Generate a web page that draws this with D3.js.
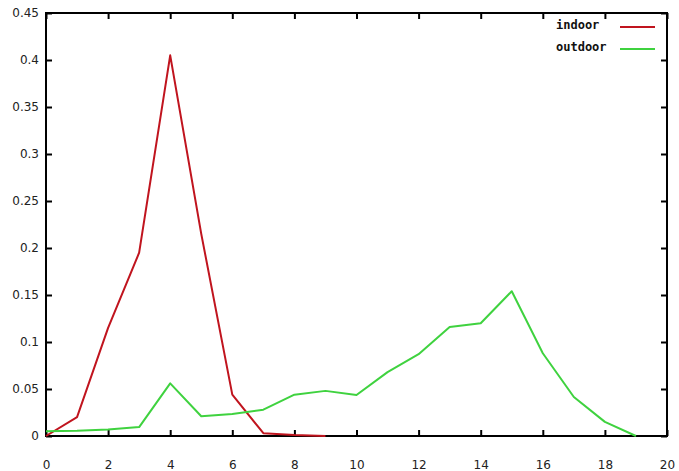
<!DOCTYPE html>
<html>
<head>
<meta charset="utf-8">
<script src="https://cdn.jsdelivr.net/npm/d3@7"></script>
<style>
  html, body { margin: 0; padding: 0; background: #fff; }
  svg { display: block; }
</style>
</head>
<body>
<svg id="chart" width="679" height="471"></svg>
<script>
// Distribution values per bin (0..19)
const bins = d3.range(0, 20);
const indoor = [0, 0.02, 0.115, 0.195, 0.405, 0.215, 0.044, 0.003, 0.001, 0];
const outdoor = [0.005, 0.0055, 0.007, 0.0095, 0.056, 0.021, 0.0235, 0.028, 0.044, 0.048,
                 0.0436, 0.068, 0.087, 0.116, 0.12, 0.154, 0.088, 0.0415, 0.015, 0];
const xTicks = [0, 2, 4, 6, 8, 10, 12, 14, 16, 18, 20];
const yTicks = [0, 0.05, 0.1, 0.15, 0.2, 0.25, 0.3, 0.35, 0.4, 0.45];
const seriesNames = ["indoor", "outdoor"];
const seriesColors = ["#c0141e", "#3fd23f"];

const svg = d3.select("#chart");
const m = { left: 46, right: 12, top: 13, bottom: 35 };
const W = 679, H = 471;

const x = d3.scaleLinear().domain([0, 20]).range([m.left, W - m.right]);
const y = d3.scaleLinear().domain([0, 0.45]).range([H - m.bottom, m.top]);

const labelFont = "DejaVu Sans, sans-serif";
const tickLen = 6;
const fmt = d => d === 0 ? "0" : String(d);

// Bottom axis (ticks point inward)
const gx = svg.append("g").attr("transform", `translate(0,${y(0)})`)
  .call(d3.axisBottom(x).tickValues(xTicks).tickFormat(fmt).tickSizeInner(-tickLen).tickSizeOuter(0).tickPadding(29));
// Left axis
const gy = svg.append("g").attr("transform", `translate(${x(0)},0)`)
  .call(d3.axisLeft(y).tickValues(yTicks).tickFormat(fmt).tickSizeInner(-tickLen).tickSizeOuter(0).tickPadding(7));
// Mirrored top and right ticks
const gt = svg.append("g").attr("transform", `translate(0,${y(0.45)})`)
  .call(d3.axisTop(x).tickValues(xTicks).tickFormat("").tickSizeInner(-tickLen).tickSizeOuter(0));
const gr = svg.append("g").attr("transform", `translate(${x(20)},0)`)
  .call(d3.axisRight(y).tickValues(yTicks).tickFormat("").tickSizeInner(-tickLen).tickSizeOuter(0));

[gx, gy, gt, gr].forEach(g => {
  g.select(".domain").remove();
  g.selectAll(".tick line").attr("stroke", "#000").attr("stroke-width", 2);
  g.selectAll(".tick text").attr("font-family", labelFont).attr("font-size", 12).attr("fill", "#222");
});
gx.selectAll(".tick text").attr("dy", "0.3em");

// Frame
svg.append("rect")
  .attr("x", x(0)).attr("y", y(0.45))
  .attr("width", x(20) - x(0)).attr("height", y(0) - y(0.45))
  .attr("fill", "none").attr("stroke", "#000").attr("stroke-width", 2);

// Lines
const line = d3.line().x((d, i) => x(bins[i])).y(d => y(d));
[indoor, outdoor].forEach((vals, k) => {
  svg.append("path")
    .datum(vals)
    .attr("d", line)
    .attr("fill", "none")
    .attr("stroke", seriesColors[k])
    .attr("stroke-width", 2)
    .attr("stroke-linejoin", "round");
});

// Key
const key = svg.append("g");
seriesNames.forEach((name, k) => {
  const cy = 25 + k * 22;
  key.append("text")
    .attr("x", 556).attr("y", cy).attr("dy", "0.35em")
    .attr("font-family", "DejaVu Sans Mono, monospace").attr("font-weight", "bold").attr("font-size", 12)
    .attr("fill", "#111")
    .text(name);
  key.append("line")
    .attr("x1", 620).attr("x2", 655).attr("y1", cy + 2).attr("y2", cy + 2)
    .attr("stroke", seriesColors[k]).attr("stroke-width", 2);
});
</script>
</body>
</html>
